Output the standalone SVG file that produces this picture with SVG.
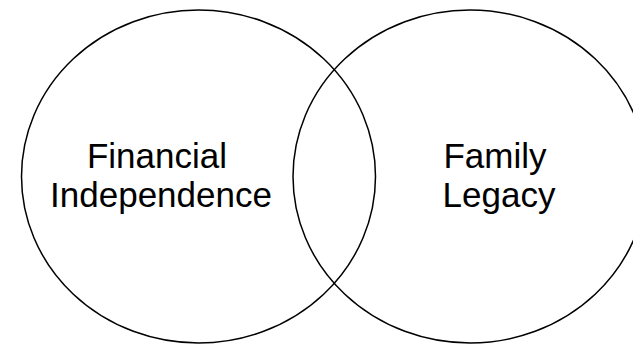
<svg xmlns="http://www.w3.org/2000/svg" width="633" height="346" viewBox="0 0 633 346">
<style>
.c{fill:none;stroke:#000;stroke-width:1.5}
.t{font-family:"Liberation Sans",Arial,sans-serif;font-size:35px;fill:#000;text-anchor:middle}
</style>
<rect width="633" height="346" fill="#fff"/>
<g id="financial-independence">
<ellipse class="c" cx="198.5" cy="176.5" rx="177" ry="166.5"/>
<text class="t" x="157" y="168">Financial</text>
<text class="t" x="161" y="207">Independence</text>
</g>
<g id="family-legacy">
<ellipse class="c" cx="470" cy="176.5" rx="177" ry="166.5"/>
<text class="t" x="495" y="168">Family</text>
<text class="t" x="499" y="207">Legacy</text>
</g>
<g id="connectors"></g>
</svg>
